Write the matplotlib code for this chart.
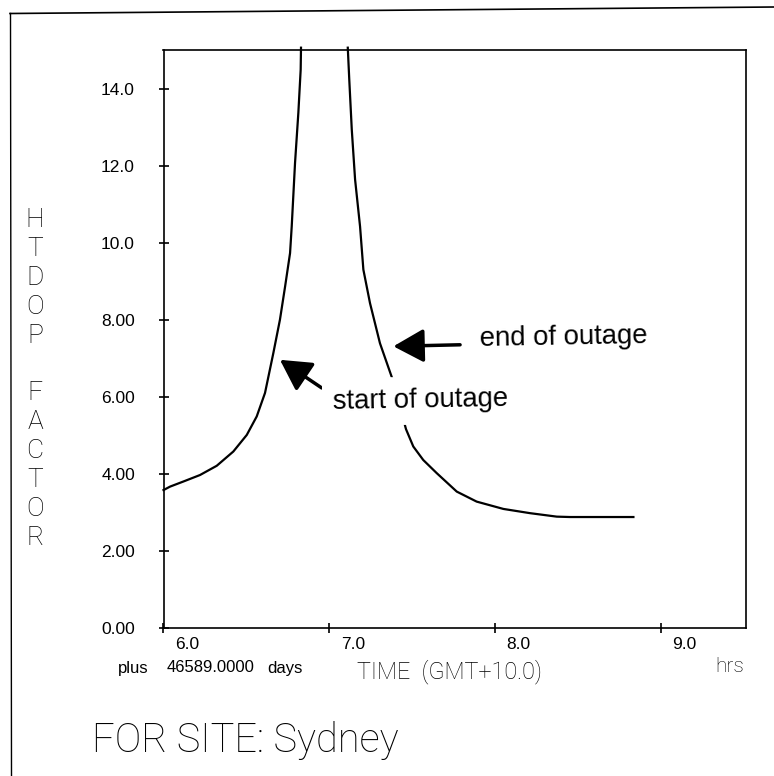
import matplotlib.pyplot as plt  # Para graficar
from matplotlib.lines import Line2D
from matplotlib.transforms import ScaledTranslation

# Datos (horas GMT+10, factor HTDOP)
tiempo_inicio = [6.00, 6.04, 6.119, 6.22, 6.321, 6.421, 6.502, 6.562, 6.612, 6.662,
                 6.702, 6.733, 6.763, 6.773, 6.793, 6.813, 6.827, 6.829]
htdop_inicio = [3.58, 3.67, 3.80, 3.97, 4.21, 4.58, 5.01, 5.49, 6.10, 7.13,
                8.00, 8.86, 9.73, 10.42, 12.07, 13.37, 14.49, 15.06]

tiempo_fin = [7.111, 7.120, 7.135, 7.155, 7.185, 7.205, 7.245, 7.305, 7.382, 7.462,
              7.506, 7.566, 7.647, 7.768, 7.888, 8.049, 8.21, 8.371, 8.451, 8.833]
htdop_fin = [15.06, 14.23, 12.94, 11.64, 10.42, 9.30, 8.43, 7.39, 6.44, 5.16,
             4.71, 4.36, 4.02, 3.54, 3.28, 3.09, 2.98, 2.89, 2.88, 2.88]

ticks_x = [6.0, 7.0, 8.0, 9.0]
etiquetas_x = ['6.0', '7.0', '8.0', '9.0']
ticks_y = [0, 2, 4, 6, 8, 10, 12, 14]
etiquetas_y = ['0.00', '2.00', '4.00', '6.00', '8.00', '10.0', '12.0', '14.0']

titulo_y = 'HTDOP FACTOR'
sitio = 'FOR SITE: Sydney'

ANCHO, ALTO = 774, 776
fuente_fina = ['Roboto', 'DejaVu Sans']  # letra de trazo fino, como la del plotter
fuente_normal = ['Liberation Sans', 'DejaVu Sans']


def px(x, y):
    # Convierte pixeles de la imagen a coordenadas de figura
    return x / ANCHO, 1 - y / ALTO


fig = plt.figure(figsize=(ANCHO / 100, ALTO / 100), dpi=100)
fig.patch.set_facecolor('white')

# Marco exterior de la hoja escaneada
fig.add_artist(Line2D([10 / ANCHO, 1.0], [1 - 13.5 / ALTO, 1 - 7 / ALTO], color='black', lw=1.2))
fig.add_artist(Line2D([10.5 / ANCHO, 11.5 / ANCHO], [1 - 13.5 / ALTO, 0.0], color='black', lw=1.0))

izq, der, arriba, abajo = 163.5, 745.7, 50, 628
ax = fig.add_axes([izq / ANCHO, 1 - abajo / ALTO, (der - izq) / ANCHO, (abajo - arriba) / ALTO])

ax.plot(tiempo_inicio, htdop_inicio, color='black', lw=1.6, clip_on=False)
ax.plot(tiempo_fin, htdop_fin, color='black', lw=1.6, clip_on=False)

ax.set_xlim(6.0, 9.51)
ax.set_ylim(0, 15)

for s in ax.spines.values():
    s.set_linewidth(1.2)

ax.set_xticks(ticks_x)
ax.set_xticklabels(etiquetas_x, fontfamily=fuente_normal, fontsize=12.5)
ax.set_yticks(ticks_y)
ax.set_yticklabels(etiquetas_y, fontfamily=fuente_normal, fontsize=12.5)
ax.tick_params(axis='both', direction='inout', length=7.2, width=1.2)
ax.tick_params(axis='y', pad=17)
ax.tick_params(axis='x', pad=3)

# Las etiquetas del eje x van corridas a la derecha de la marca
corrimiento = ScaledTranslation(0.235, 0, fig.dpi_scale_trans)
for etiqueta in ax.get_xticklabels():
    etiqueta.set_transform(etiqueta.get_transform() + corrimiento)

# Titulo vertical, letra por letra
for i, letra in enumerate(titulo_y):
    if letra != ' ':
        fig.text(*px(35, 220 + i * 28.9), letra, ha='center', va='center', color='black',
                 fontfamily=fuente_fina, fontsize=19, fontweight='light')

# Textos bajo el eje x
fig.text(*px(118, 668), 'plus', ha='left', va='center', fontfamily=fuente_normal, fontsize=12)
fig.text(*px(167, 668), '46589.0000', ha='left', va='center', fontfamily=fuente_normal, fontsize=12)
fig.text(*px(267, 668), 'days', ha='left', va='center', fontfamily=fuente_normal, fontsize=12)
fig.text(*px(357, 672), 'TIME  (GMT+10.0)', ha='left', va='center', fontfamily=fuente_fina,
         fontsize=16.8, fontweight='light')
fig.text(*px(730, 667), 'hrs', ha='center', va='center', fontfamily=fuente_fina, fontsize=15,
         fontweight='light')

fig.text(*px(92, 751.7), sitio, ha='left', va='baseline', fontfamily=fuente_fina, fontsize=28.6,
         fontweight='light')

# Flechas y notas
flecha = dict(arrowstyle='-|>,head_length=0.4,head_width=0.22', mutation_scale=47,
              color='black', lw=2.5, shrinkA=0, shrinkB=0)
ax.annotate('', xy=(7.386, 7.31), xytext=(7.788, 7.35), arrowprops=flecha, annotation_clip=False)
ax.annotate('', xy=(6.702, 6.96), xytext=(6.954, 6.23), arrowprops=flecha, annotation_clip=False)

ax.text(7.908, 7.53, 'end of outage', ha='left', va='center', fontfamily=fuente_normal,
        fontsize=19.8, rotation=1)
ax.text(7.022, 5.90, 'start of outage', ha='left', va='center', fontfamily=fuente_normal,
        fontsize=19.8, rotation=1, zorder=5,
        bbox=dict(facecolor='white', edgecolor='none', pad=8))

fig.savefig('out.png', dpi=100)
